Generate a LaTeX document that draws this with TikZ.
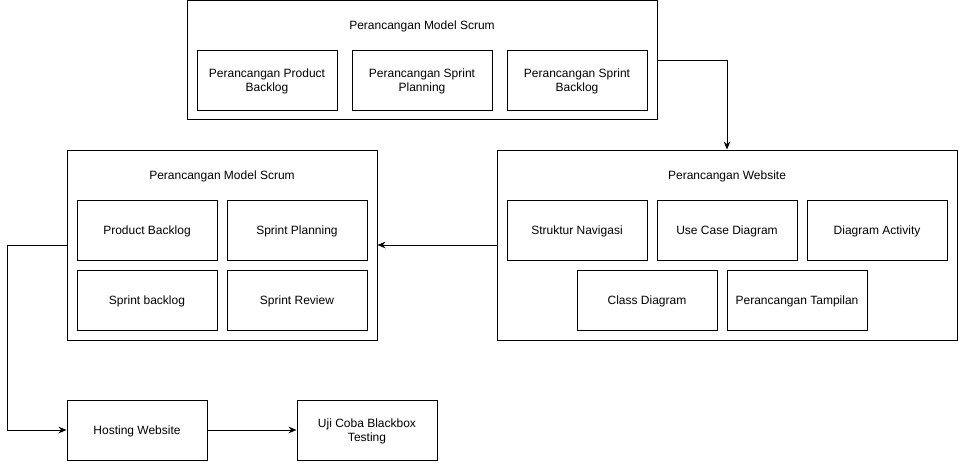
\documentclass[tikz,border=0pt]{standalone}
\usepackage{fontspec}
\setmainfont{Liberation Sans}
\usetikzlibrary{arrows.meta}
\begin{document}
\begin{tikzpicture}[x=0.75pt,y=-0.75pt,
  box/.style={draw,line width=0.75pt,minimum width=105pt,minimum height=45pt,inner sep=2pt,align=center,font=\fontsize{9}{11}\selectfont,text depth=0pt},
  title/.style={font=\fontsize{9}{11}\selectfont},
  conn/.style={line width=0.75pt,-{Stealth[length=6pt,width=5pt]}}]
\useasboundingbox (0,0) rectangle (959,462);
% groups
\node[draw,line width=0.75pt,minimum width=352.5pt,minimum height=89.5pt] (g1) at (422,60.3) {};
\node[title] (t1) at (422,26.5) {Perancangan Model Scrum};
\node[box] (a1) at (267,80) {Perancangan Product\\Backlog};
\node[box] (a2) at (422,80) {Perancangan Sprint\\Planning};
\node[box] (a3) at (577,80) {Perancangan Sprint\\Backlog};

\node[draw,line width=0.75pt,minimum width=345pt,minimum height=142.5pt] (g2) at (727,245) {};
\node[title] (t2) at (727,176.5) {Perancangan Website};
\node[box] (w1) at (577,230) {Struktur Navigasi};
\node[box] (w2) at (727,230) {Use Case Diagram};
\node[box] (w3) at (877,230) {Diagram Activity};
\node[box] (w4) at (647,300) {Class Diagram};
\node[box] (w5) at (797,300) {Perancangan Tampilan};

\node[draw,line width=0.75pt,minimum width=232.5pt,minimum height=142.5pt] (g3) at (222,245) {};
\node[title] (t3) at (222,176.5) {Perancangan Model Scrum};
\node[box] (s1) at (147,230) {Product Backlog};
\node[box] (s2) at (297,230) {Sprint Planning};
\node[box] (s3) at (147,300) {Sprint backlog};
\node[box] (s4) at (297,300) {Sprint Review};

\node[box] (h) at (137,430) {Hosting Website};
\node[box] (u) at (367,430) {Uji Coba Blackbox\\Testing};

\draw[conn] (g1.east |- 0,60) -| (g2.north);
\draw[conn] (g2.west) -- (g3.east);
\draw[conn] (g3.west) -- (7,245) |- (h.west);
\draw[conn] (h.east) -- (u.west);
\end{tikzpicture}
\end{document}
